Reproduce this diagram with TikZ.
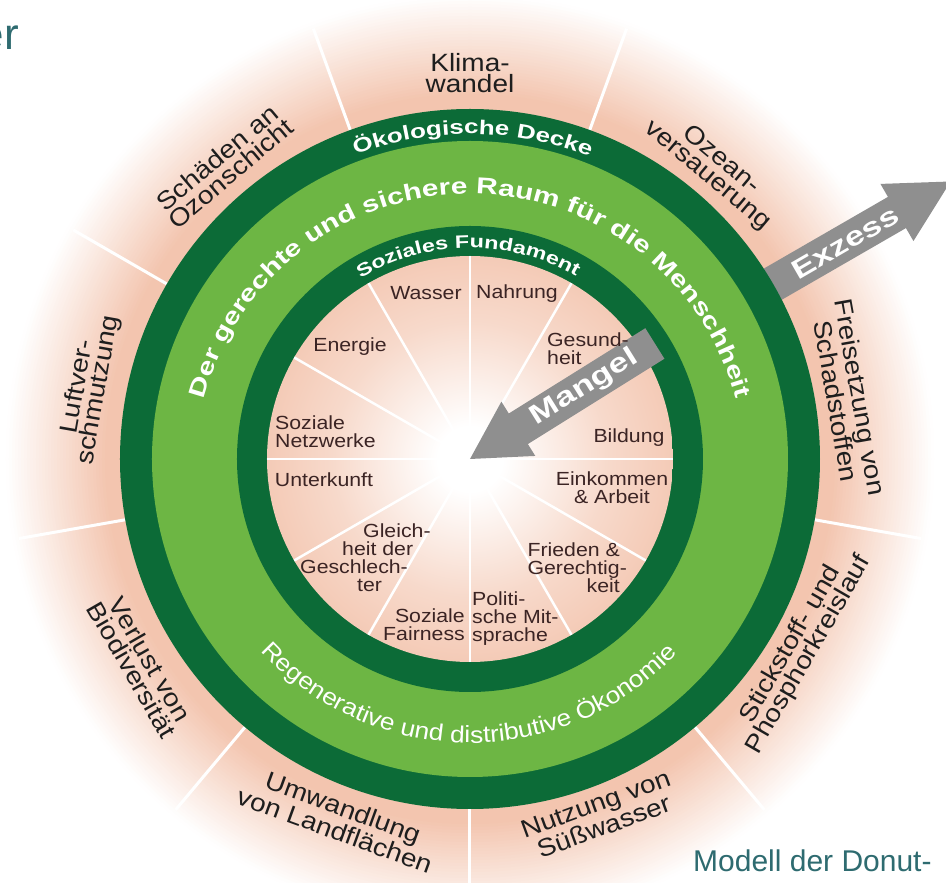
\documentclass[tikz,border=0pt]{standalone}
\usepackage{fontspec}
\setmainfont{Liberation Sans}
\newfontfamily\lab{Liberation Sans}[FakeStretch=1.12]
\newfontfamily\wideb{Liberation Sans}[FakeStretch=1.3]
\usetikzlibrary{decorations.text}
\definecolor{dgreen}{HTML}{0C6B37}
\definecolor{lgreen}{HTML}{6DB644}
\definecolor{pinkc}{HTML}{F3C5AF}
\definecolor{arrowgray}{HTML}{8F8F8F}
\definecolor{labtext}{HTML}{3B2424}
\definecolor{outtext}{HTML}{1E1E1E}
\definecolor{captc}{HTML}{2E6B70}
\colorlet{pinkD}{pinkc!65!white}
\pgfdeclareradialshading{innerdisk}{\pgfpoint{0bp}{0bp}}{color(0bp)=(white); color(4bp)=(white); color(17bp)=(pinkD); color(28bp)=(pinkc); color(50bp)=(pinkc)}
\begin{document}
\begin{tikzpicture}[x=1pt,y=1pt,
  outlab/.style={font=\lab\fontsize{25}{21}\selectfont, text=outtext, align=center, inner sep=0pt},
  inlab/.style={font=\lab\fontsize{19}{18}\selectfont, text=labtext, inner sep=0pt},
  divider/.style={draw=white, line width=3pt},
  innerdiv/.style={draw=white, line width=2.5pt},
  arrowbody/.style={fill=arrowgray},
  arrowtext/.style={font=\wideb\bfseries\fontsize{27}{27}\selectfont, text=white, inner sep=0pt},
  ringtext/.style={decorate, decoration={text along path, text align={align=center}, text color=white, #1}},
  captext/.style={text=captc, inner sep=0pt},
]
\useasboundingbox (-470,-424) rectangle (476,459);
\fill[white] (-470,-424) rectangle (476,459);
% pink halo fading to white (concentric discs)
\foreach \r in {470,467,...,350} {
  \pgfmathtruncatemacro\p{max(0,min(100,465-\r))}
  \fill[pinkc!\p!white] (0,0) circle[radius=\r];
}
\foreach \a in {-170,-130,...,150} \draw[divider] (\a:350) -- (\a:458);
% Exzess arrow (under the ring)
\fill[arrowbody, rotate=30] (330,-18) -- (493,-18) -- (493,-33) -- (555,0) -- (493,33) -- (493,18) -- (330,18) -- cycle;
% rings
\fill[dgreen] (0,0) circle[radius=350];
\fill[lgreen] (0,0) circle[radius=318];
\fill[dgreen] (0,0) circle[radius=233];
\shade[shading=innerdisk] (0,0) circle[radius=203];
\foreach \a in {0,30,...,330} \draw[innerdiv] (0,0) -- (\a:203);
% Mangel arrow
\fill[arrowbody, rotate=32] (0,0) -- (57,32) -- (57,18) -- (218,18) -- (218,-18) -- (57,-18) -- (57,-32) -- cycle;
\node[arrowtext, rotate=32] (mangel) at (32:135) {Mangel};
\node[arrowtext, rotate=30] (exzess) at (30:433) {Exzess};
% ring texts
\path[ringtext={text={|\wideb\bfseries\fontsize{20}{20}\selectfont|Ökologische Decke}}] (111:325) arc[start angle=111, end angle=68, radius=325];
\path[ringtext={text={|\wideb\bfseries\fontsize{23}{23}\selectfont|Der gerechte und sichere Raum für die Menschheit}}] ([shift={(0,-10)}]166:275) arc[start angle=166, end angle=14, radius=275];
\path[ringtext={text={|\wideb\bfseries\fontsize{18}{18}\selectfont|Soziales Fundament}}] (123:211) arc[start angle=123, end angle=58, radius=211];
\path[ringtext={text={|\lab\fontsize{23.5}{23.5}\selectfont|Regenerative und distributive Ökonomie}}] (221:284) arc[start angle=221, end angle=318.5, radius=284];
% outer labels
\node[outlab] (klima) at (90:386) {Klima-\\wandel};
\node[outlab, rotate=-40] (ozean) at (50:380) {Ozean-\\versauerung};
\node[outlab, rotate=40] (ozon) at (130:383) {Schäden an\\Ozonschicht};
\node[outlab, rotate=80] (luft) at (169.5:388) {Luftver-\\schmutzung};
\node[outlab, rotate=-80] (frei) at (9:383) {Freisetzung von\\Schadstoffen};
\node[outlab, rotate=60] (stick) at (-30:381) {Stickstoff- und\\Phosphorkreislauf};
\node[outlab, rotate=20] (nutz) at (-70:379) {Nutzung von\\Süßwasser};
\node[outlab, rotate=-20] (umw) at (-110:383) {Umwandlung\\von Landflächen};
\node[outlab, rotate=-60] (verl) at (-148:388) {Verlust von\\Biodiversität};
% inner labels
\node[inlab] (wasser) at (-44,166) {Wasser};
\node[inlab] (nahrung) at (47,165) {Nahrung};
\node[inlab, align=left] (gesund) at (118,110) {Gesund-\\heit};
\node[inlab] (bildung) at (159,21) {Bildung};
\node[inlab, align=center] (eink) at (142,-29) {Einkommen\\\& Arbeit};
\node[inlab, align=right, anchor=east] (frieden) at (150,-109) {Frieden \&\\Gerechtig\rlap{-}\\keit};
\node[inlab, align=left, anchor=west] (polit) at (2,-160) {Politi-\\sche Mit-\\sprache};
\node[inlab, align=right, anchor=east] (fair) at (-5,-166) {Soziale\\Fairness};
\node[inlab, align=left, anchor=west] (gleich) at (-170,-99) {\hspace*{63pt}Gleich-\\\hspace*{42pt}heit der\\Geschlech-\\\hspace*{57pt}ter};
\node[inlab] (unterk) at (-146,-21) {Unterkunft};
\node[inlab, align=left, anchor=west] (netz) at (-195,27) {Soziale\\Netzwerke};
\node[inlab] (energie) at (-120,112) {Energie};
% captions
\node[captext, font=\fontsize{44}{44}\selectfont, anchor=base east] (title) at (-451,409) {er};
\node[captext, font=\fontsize{30}{30}\selectfont, anchor=base west] (caption) at (223,-413) {Modell der Donut-};
\end{tikzpicture}
\end{document}
